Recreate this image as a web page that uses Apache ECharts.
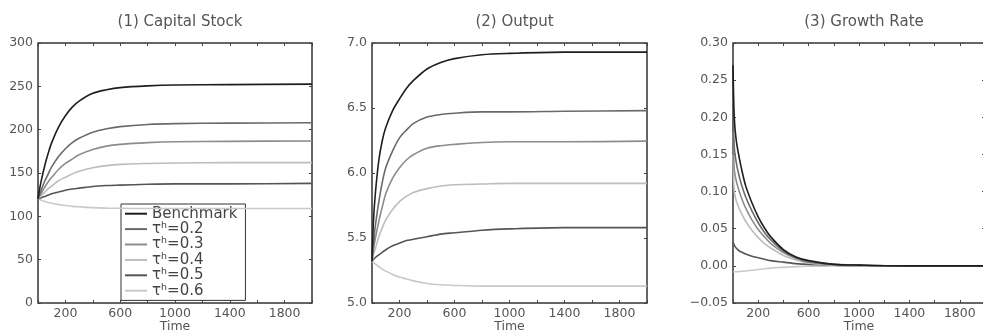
<!DOCTYPE html>
<html>
<head>
<meta charset="utf-8">
<script src="https://cdn.jsdelivr.net/npm/echarts@6/dist/echarts.min.js"></script>
<style>
  html, body { margin: 0; padding: 0; background: #fff; }
  #main { width: 983px; height: 334px; }
</style>
</head>
<body>
<div id="main"></div>
<script>
// time steps (x axis)
const time = [0, 10, 25, 50, 75, 100, 150, 200, 250, 300, 400, 500, 600, 800, 1000, 1400, 2000];

const names = ['Benchmark', 'τʰ=0.2', 'τʰ=0.3', 'τʰ=0.4', 'τʰ=0.5', 'τʰ=0.6'];
const colors = ['#1e1e1e', '#6a6a6a', '#8c8c8c', '#bdbdbd', '#555555', '#c9c9c9'];

// (1) capital stock
const capBench = [120, 130, 142, 159, 173, 185, 203, 216, 226, 233, 242, 246, 248.5, 250.5, 251.5, 252, 252.5];
const cap02 = [120, 124.5, 131, 141, 149, 157, 169, 178, 185, 190, 197, 201, 203.5, 206, 207, 207.5, 208];
const cap03 = [120, 123, 127, 134, 140, 145, 154, 161, 166, 171, 177, 181, 183, 185, 186, 186.5, 187];
const cap04 = [120, 121.5, 124, 128, 132, 135, 141, 145, 149, 152, 156, 158.5, 160, 161, 161.5, 162, 162];
const cap05 = [120, 120.5, 121.5, 123, 124.5, 126, 128, 130, 131.5, 132.5, 134.5, 135.5, 136, 137, 137.5, 137.5, 138];
const cap06 = [120, 119.4, 118.5, 117, 116, 115, 113.5, 112.5, 111.5, 111, 110, 109.5, 109.3, 109, 109, 109, 109];

// (2) output
const outBench = [5.32, 5.62, 5.85, 6.1, 6.25, 6.35, 6.48, 6.57, 6.65, 6.71, 6.8, 6.85, 6.88, 6.91, 6.92, 6.93, 6.93];
const out02 = [5.32, 5.45, 5.6, 5.78, 5.93, 6.04, 6.17, 6.27, 6.33, 6.38, 6.43, 6.45, 6.46, 6.47, 6.47, 6.475, 6.48];
const out03 = [5.32, 5.41, 5.5, 5.63, 5.74, 5.84, 5.96, 6.04, 6.1, 6.14, 6.19, 6.21, 6.22, 6.235, 6.24, 6.24, 6.245];
const out04 = [5.32, 5.37, 5.42, 5.51, 5.58, 5.64, 5.72, 5.78, 5.82, 5.85, 5.88, 5.9, 5.91, 5.915, 5.92, 5.92, 5.92];
const out05 = [5.32, 5.335, 5.35, 5.37, 5.39, 5.41, 5.44, 5.46, 5.48, 5.49, 5.51, 5.53, 5.54, 5.56, 5.57, 5.58, 5.58];
const out06 = [5.32, 5.31, 5.3, 5.28, 5.26, 5.245, 5.22, 5.2, 5.185, 5.17, 5.15, 5.14, 5.135, 5.13, 5.13, 5.13, 5.13];

// (3) growth rate
const grBench = [0.27, 0.2, 0.17, 0.145, 0.125, 0.108, 0.085, 0.066, 0.051, 0.039, 0.022, 0.012, 0.007, 0.002, 0.001, 0, 0];
const gr02 = [0.21, 0.16, 0.14, 0.12, 0.105, 0.093, 0.074, 0.058, 0.045, 0.035, 0.02, 0.011, 0.006, 0.002, 0.001, 0, 0];
const gr03 = [0.18, 0.13, 0.115, 0.1, 0.088, 0.078, 0.062, 0.049, 0.039, 0.03, 0.018, 0.01, 0.005, 0.002, 0.001, 0, 0];
const gr04 = [0.15, 0.1, 0.088, 0.077, 0.068, 0.06, 0.048, 0.038, 0.03, 0.024, 0.014, 0.008, 0.004, 0.001, 0, 0, 0];
const gr05 = [0.032, 0.028, 0.024, 0.02, 0.018, 0.016, 0.013, 0.011, 0.009, 0.007, 0.005, 0.003, 0.002, 0.001, 0, 0, 0];
const gr06 = [-0.008, -0.008, -0.008, -0.0075, -0.0072, -0.007, -0.006, -0.005, -0.004, -0.003, -0.002, -0.001, -0.0005, 0, 0, 0, 0];

const panels = [
    { title: '(1) Capital Stock', data: [capBench, cap02, cap03, cap04, cap05, cap06], min: 0, max: 300, interval: 50, dec: 0 },
    { title: '(2) Output', data: [outBench, out02, out03, out04, out05, out06], min: 5, max: 7, interval: 0.5, dec: 1 },
    { title: '(3) Growth Rate', data: [grBench, gr02, gr03, gr04, gr05, gr06], min: -0.05, max: 0.3, interval: 0.05, dec: 2 }
];

const font = 'DejaVu Sans';
const textColor = '#555';

const grids = [
    { left: 38, top: 43, width: 274, height: 260 },
    { left: 372, top: 43, width: 275, height: 260 },
    { left: 733, top: 43, width: 252, height: 260 }
];

let xAxis = [], yAxis = [], series = [], title = [];

panels.forEach((p, i) => {
    const g = grids[i];
    title.push({
        text: p.title,
        left: g.left + g.width / 2,
        top: 10,
        textAlign: 'center',
        textStyle: { fontFamily: font, fontSize: 15, fontWeight: 'normal', color: textColor }
    });
    // bottom x axis with labels
    xAxis.push({
        type: 'value', gridIndex: i, position: 'bottom', min: 0, max: 2000, interval: 200,
        name: 'Time', nameLocation: 'middle', nameGap: 17, nameMoveOverlap: false,
        nameTextStyle: { fontFamily: font, fontSize: 12.5, color: textColor },
        axisLine: { show: false, onZero: false },
        axisTick: { inside: true, length: 3, lineStyle: { color: '#444' } },
        splitLine: { show: false },
        axisLabel: {
            margin: 4, fontFamily: font, fontSize: 12.5, color: textColor,
            formatter: v => (v % 400 === 200 ? String(v) : '')
        }
    });
    // top mirror, ticks only
    xAxis.push({
        type: 'value', gridIndex: i, position: 'top', min: 0, max: 2000, interval: 200,
        axisLine: { show: false, onZero: false },
        axisTick: { inside: true, length: 3, lineStyle: { color: '#444' } },
        splitLine: { show: false },
        axisLabel: { show: false }
    });
    yAxis.push({
        type: 'value', gridIndex: i, position: 'left', min: p.min, max: p.max, interval: p.interval,
        axisLine: { show: false, onZero: false },
        axisTick: { show: true, inside: true, length: 3, lineStyle: { color: '#444' } },
        splitLine: { show: false },
        axisLabel: {
            margin: 5, fontFamily: font, fontSize: 12.5, color: textColor,
            formatter: v => v.toFixed(p.dec).replace('-', '−')
        }
    });
    yAxis.push({
        type: 'value', gridIndex: i, position: 'right', min: p.min, max: p.max, interval: p.interval,
        axisLine: { show: false, onZero: false },
        axisTick: { show: true, inside: true, length: 3, lineStyle: { color: '#444' } },
        splitLine: { show: false },
        axisLabel: { show: false }
    });
    p.data.forEach((arr, k) => {
        series.push({
            name: names[k],
            type: 'line',
            xAxisIndex: i * 2,
            yAxisIndex: i * 2,
            data: time.map((t, j) => [t, arr[j]]),
            smooth: 0.3,
            symbol: 'none',
            z: 10 - k,
            lineStyle: { color: colors[k], width: 1.6 },
            itemStyle: { color: colors[k] }
        });
    });
});

const myChart = echarts.init(document.getElementById('main'));
myChart.setOption({
    animation: false,
    backgroundColor: '#fff',
    title: title,
    grid: grids.map(g => Object.assign({ show: true, borderColor: '#333', borderWidth: 1.5, outerBoundsMode: 'none', containLabel: false }, g)),
    legend: {
        data: names,
        orient: 'vertical',
        left: 121,
        top: 204,
        padding: [2, 8, 2, 4],
        itemGap: 0,
        itemWidth: 22,
        itemHeight: 2,
        icon: 'rect',
        borderColor: '#333',
        borderWidth: 1,
        backgroundColor: '#fff',
        textStyle: { fontFamily: font, fontSize: 15, color: '#444', lineHeight: 15.4 }
    },
    xAxis: xAxis,
    yAxis: yAxis,
    series: series
});
</script>
</body>
</html>
